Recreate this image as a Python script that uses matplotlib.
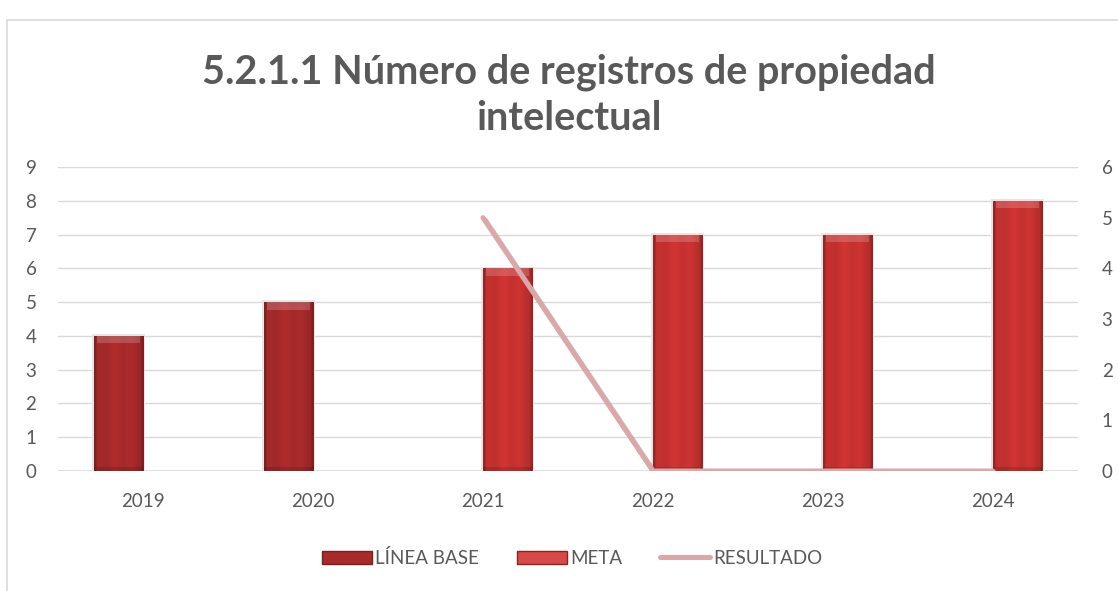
import numpy as np
import matplotlib
matplotlib.use("Agg")
import matplotlib.pyplot as plt
from matplotlib.patches import Patch, Rectangle
from matplotlib.lines import Line2D
import matplotlib.patheffects as pe
from matplotlib.colors import to_rgb

# ---- data ----
years = ["2019", "2020", "2021", "2022", "2023", "2024"]
linea_base = [4, 5, 0, 0, 0, 0]
meta = [0, 0, 6, 7, 7, 8]
resultado = [np.nan, np.nan, 5, 0, 0, 0]
left_ticks = list(range(0, 10))
right_ticks = list(range(0, 7))

title = "5.2.1.1 Número de registros de propiedad\nintelectual"
labels = ["LÍNEA BASE", "META", "RESULTADO"]

plt.rcParams['font.family'] = ['Lato', 'DejaVu Sans']
TXT = "#595959"
GRID = "#d9d9d9"
C_BASE = "#a82a2b"
C_META = "#c83230"
C_RES = "#dba7a8"
TICK_FS = 13.5

W, H = 1118, 591
fig = plt.figure(figsize=(W / 100, H / 100), dpi=100)

# chart border
fig.patches.append(Rectangle((7 / W, -0.01), 1.05, 1 - 20 / H + 0.01, transform=fig.transFigure,
                             fill=False, edgecolor="#d9d9d9", linewidth=1.2))

ax = fig.add_axes([58 / W, (H - 471) / H, (1078 - 58) / W, (471 - 167) / H])
ax.set_xlim(-0.5, 5.5)
ax.set_ylim(0, 9)
ax.set_yticks(left_ticks)
ax.set_xticks(range(len(years)))
ax.set_xticklabels(years)
ax.grid(axis='y', color=GRID, linewidth=1.0)
ax.set_axisbelow(True)
for s in ax.spines.values():
    s.set_visible(False)
ax.axhline(0, color=GRID, linewidth=1.2, zorder=1)
ax.tick_params(axis='both', length=0, labelsize=TICK_FS, colors=TXT)
ax.tick_params(axis='y', pad=15.5)
ax.tick_params(axis='x', pad=16)

x = np.arange(len(years))
bw = 0.29
off = 0.145


def shaded_bars(xs, vals, color):
    base = np.array(to_rgb(color))
    n = 40
    t = np.linspace(0, 1, n)
    prof = 0.92 + 0.10 * np.sin(np.pi * t) + 0.03 * np.sin(6 * np.pi * t)
    prof[:2] *= 0.82
    prof[-2:] *= 0.82
    for xi, v in zip(xs, vals):
        if v <= 0:
            continue
        # soft shadow
        ax.add_patch(Rectangle((xi - bw / 2 - 0.012, 0), bw + 0.024, v + 0.05,
                               facecolor="#e6e6e6", edgecolor="none", zorder=2))
        r = Rectangle((xi - bw / 2, 0), bw, v, facecolor=color, edgecolor="none", zorder=3)
        ax.add_patch(r)
        img = np.clip(base[None, None, :] * prof[None, :, None], 0, 1)
        im = ax.imshow(img, extent=(xi - bw / 2, xi + bw / 2, 0, v), aspect='auto',
                       zorder=3.1, interpolation='bilinear')
        im.set_clip_path(r)
        # top highlight and bottom darkening
        top_h = 0.22
        ax.add_patch(Rectangle((xi - bw / 2 + 0.02, v - top_h), bw - 0.04, top_h,
                               facecolor="white", alpha=0.18, edgecolor="none", zorder=3.2))
        ax.add_patch(Rectangle((xi - bw / 2, 0), bw, 0.12,
                               facecolor="black", alpha=0.12, edgecolor="none", zorder=3.2))


shaded_bars(x - off, linea_base, C_BASE)
shaded_bars(x + off, meta, C_META)

ax2 = ax.twinx()
ax2.set_ylim(0, 6)
ax2.set_yticks(right_ticks)
for s in ax2.spines.values():
    s.set_visible(False)
ax2.tick_params(axis='y', length=0, labelsize=TICK_FS, colors=TXT, pad=17)
ax2.plot(x, resultado, color=C_RES, linewidth=3.6, solid_capstyle='round', zorder=5,
         path_effects=[pe.SimpleLineShadow(offset=(1.5, -1.5), shadow_color="#888888", alpha=0.5),
                       pe.Normal()])

fig.text(569 / W, 1 - 95 / H, title, ha='center', va='center', fontsize=28.5, fontweight='bold',
         color=TXT, linespacing=1.3)

handles = [Patch(facecolor=C_BASE, edgecolor="#7a1e1e"),
           Patch(facecolor="#d84a48", edgecolor="#8a2222"),
           Line2D([0], [0], color=C_RES, linewidth=3.6, solid_capstyle='round')]
fig.legend(handles, labels, loc='center', bbox_to_anchor=(572 / W, 1 - 558 / H), ncol=3,
           frameon=False, fontsize=TICK_FS, labelcolor=TXT, handlelength=2.7, handleheight=0.75,
           handletextpad=0.15, columnspacing=2.0)

fig.savefig("out.png", dpi=100)
